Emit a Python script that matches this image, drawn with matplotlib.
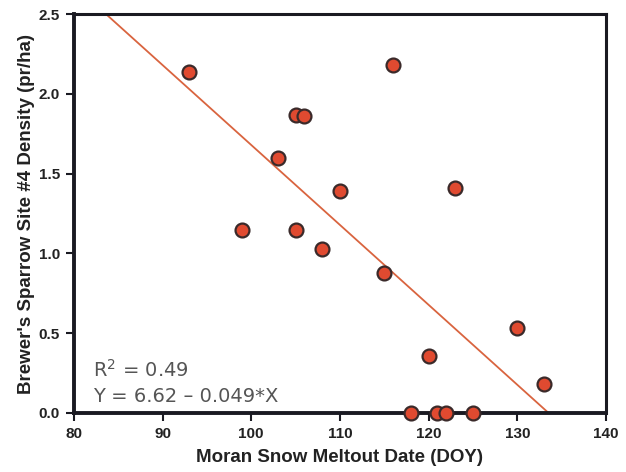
import matplotlib
matplotlib.use("Agg")
import matplotlib.pyplot as plt

# Data
meltout_doy = [93, 105, 106, 103, 99, 105, 108, 110, 116, 123, 115, 120, 130, 133, 118, 121, 122, 125]
density = [2.14, 1.87, 1.86, 1.60, 1.15, 1.15, 1.03, 1.39, 2.18, 1.41, 0.88, 0.36, 0.53, 0.18, 0.0, 0.0, 0.0, 0.0]

fit_intercept = 6.69
fit_slope = -0.0501
fit_x = [83.7, 133.5]

x_ticks = [80, 90, 100, 110, 120, 130, 140]
y_ticks = [0.0, 0.5, 1.0, 1.5, 2.0, 2.5]

plt.rcParams['font.family'] = ['Liberation Sans', 'DejaVu Sans']

fig = plt.figure(figsize=(6.26, 4.72), dpi=100)
ax = fig.add_axes([0.118, 0.125, 0.850, 0.845])

fit_y = [fit_intercept + fit_slope * x for x in fit_x]
ax.plot(fit_x, fit_y, color='#d9643f', lw=1.3, zorder=2, clip_on=False)
ax.scatter(meltout_doy, density, s=100, facecolor='#e04a30', edgecolor='#3a2a2a',
           linewidth=1.6, zorder=3, clip_on=False)

ax.set_xlim(80, 140)
ax.set_ylim(0, 2.5)
ax.set_xticks(x_ticks)
ax.set_xticklabels([str(t) for t in x_ticks])
ax.set_yticks(y_ticks)
ax.set_yticklabels([f"{t:.1f}" for t in y_ticks])

for side in ['left', 'bottom']:
    ax.spines[side].set_linewidth(2.8)
for side in ['top', 'right']:
    ax.spines[side].set_linewidth(2.2)
for s in ax.spines.values():
    s.set_color('#1a1a22')

ax.tick_params(direction='out', length=6, width=1.5, color='#1a1a22',
               labelsize=11, pad=4)
for lab in ax.get_xticklabels() + ax.get_yticklabels():
    lab.set_fontweight('bold')
    lab.set_color('#222222')

ax.set_xlabel('Moran Snow Meltout Date (DOY)', fontsize=13.5, fontweight='bold',
              color='#222222', labelpad=6)
ax.set_ylabel("Brewer's Sparrow Site #4 Density (pr/ha)", fontsize=13.5,
              fontweight='bold', color='#222222', labelpad=3)

ax.text(0.036, 0.09, r'R$^2$ = 0.49', transform=ax.transAxes, fontsize=14,
        color='#555555', family=['DejaVu Sans'], va='baseline')
ax.text(0.036, 0.027, 'Y = 6.62 \u2013 0.049*X', transform=ax.transAxes, fontsize=14,
        color='#555555', family=['DejaVu Sans'], va='baseline')

fig.savefig('out.png', dpi=100)
